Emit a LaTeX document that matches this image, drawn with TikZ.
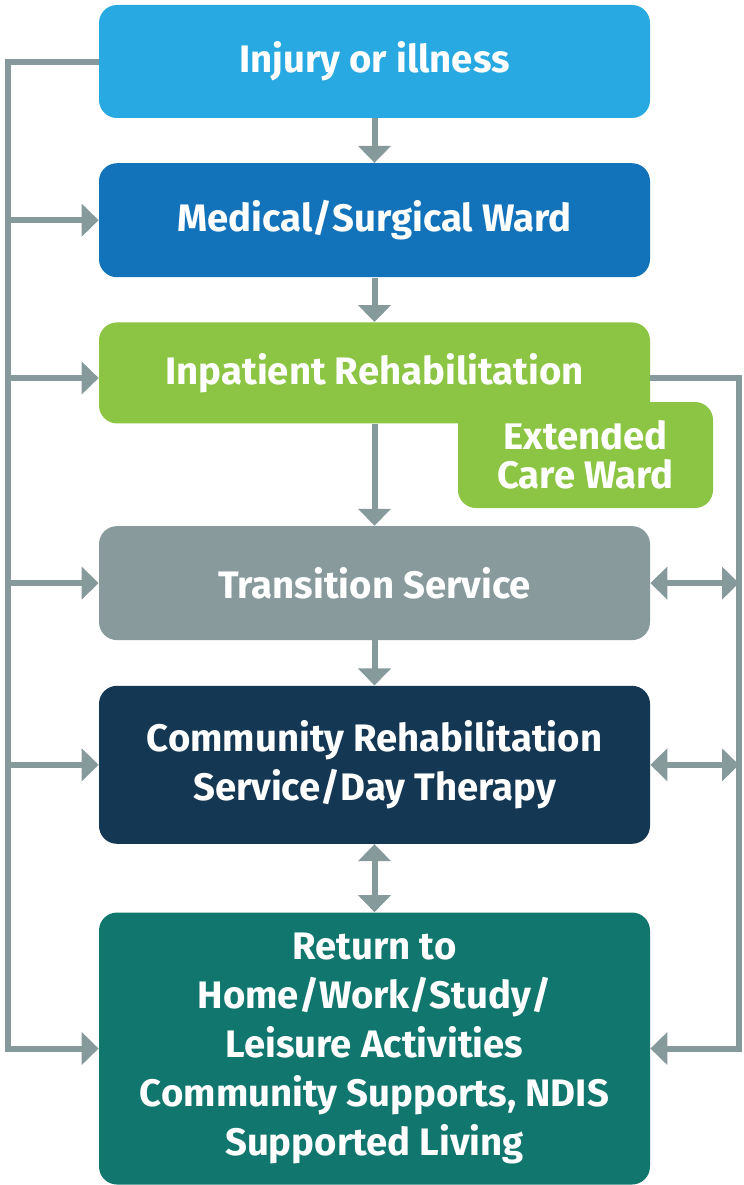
\documentclass[tikz,border=0pt]{standalone}
\usepackage{fontspec}
\setmainfont{Fira Sans}
\usetikzlibrary{arrows.meta,positioning}
\definecolor{skyblue}{HTML}{29A9E1}
\definecolor{wardblue}{HTML}{1273BA}
\definecolor{rehabgreen}{HTML}{8BC543}
\definecolor{transgray}{HTML}{889A9B}
\definecolor{navy}{HTML}{143754}
\definecolor{teal}{HTML}{11766D}
\definecolor{linegray}{HTML}{879A9B}

\begin{document}
\begin{tikzpicture}[>={Triangle[width=0.64cm,length=0.34cm]},
	box/.style={rounded corners=0.36cm, text=white, font=\bfseries\fontsize{21.8}{27.8}\selectfont,
		align=center, minimum width=11.02cm, inner sep=0pt},
	conn/.style={draw=linegray, line width=0.12cm},
	arr/.style={conn,->}]
	\useasboundingbox (0,0) rectangle (14.86,-23.7);

	\node[box,fill=skyblue,minimum height=2.26cm] (injury) at (7.49,-1.23) {Injury or illness};
	\node[box,fill=wardblue,minimum height=2.28cm] (ward) [below=0.89cm of injury] {Medical/Surgical Ward};
	\node[box,fill=rehabgreen,minimum width=5.1cm,minimum height=2.12cm] (extcare) at (11.71,-9.10) {Extended\\[-0.2cm]Care Ward};
	\node[box,fill=rehabgreen,minimum height=2.02cm] (inpatient) [below=0.89cm of ward] {Inpatient Rehabilitation};
	\node[box,fill=transgray,minimum height=2.28cm] (transition) [below=2.04cm of inpatient] {Transition Service};
	\node[box,fill=navy,minimum height=3.16cm] (community) [below=0.9cm of transition] {Community Rehabilitation\\Service/Day Therapy};
	\node[box,fill=teal,minimum height=5.44cm] (return) [below=1.36cm of community] {Return to\\Home/Work/Study/\\Leisure Activities\\Community Supports, NDIS\\Supported Living};

	% down the middle
	\draw[arr] (injury) -- (ward);
	\draw[arr] (ward) -- (inpatient);
	\draw[arr] (inpatient) -- (transition);
	\draw[arr] (transition) -- (community);
	\draw[arr,<->] (community) -- (return);

	% left side
	\coordinate (ltop) at (0.16,-1.24);
	\draw[arr] (injury.west |- ltop) -- (ltop) |- (return.west);
	\draw[arr] (ltop |- ward.west) -- (ward.west);
	\draw[arr] (ltop |- 0,-7.56) -- (inpatient.west |- 0,-7.56);
	\draw[arr] (ltop |- transition.west) -- (transition.west);
	\draw[arr] (ltop |- community.west) -- (community.west);

	% right side
	\coordinate (rtop) at (14.78,-7.56);
	\draw[arr] (inpatient.east |- rtop) -- (rtop) |- (return.east);
	\draw[arr,<->] (transition.east) -- (rtop |- transition.east);
	\draw[arr,<->] (community.east) -- (rtop |- community.east);
\end{tikzpicture}
\end{document}
